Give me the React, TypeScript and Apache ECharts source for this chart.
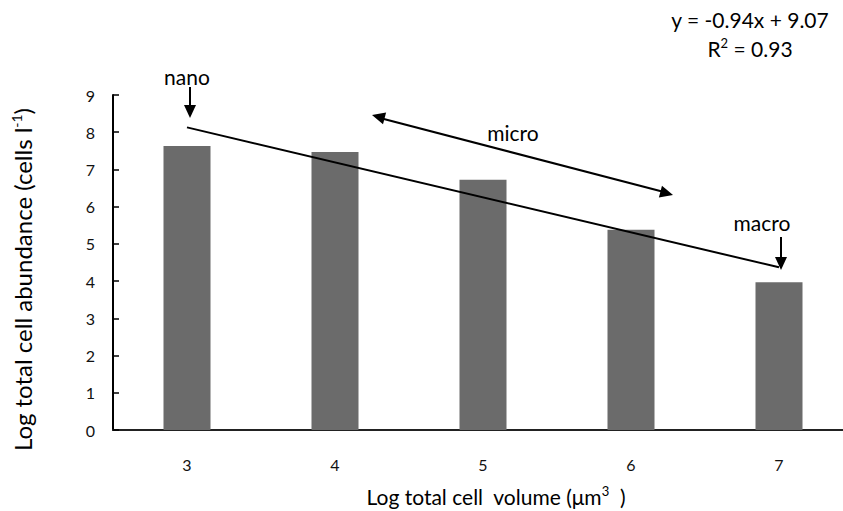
import React, { useEffect, useRef } from "react";
import * as echarts from "echarts";

const categories = ["3", "4", "5", "6", "7"];
const abundance = [7.63, 7.47, 6.72, 5.38, 3.97];
// trend line endpoints (y = -0.94x + 9.07 at first and last category)
const trend = [8.13, null, null, null, 4.37];
const yTicks = [0, 9, 1];
const equation = "y = -0.94x + 9.07";
const r2Value = "0.93";

const FONT = "Lato, 'Open Sans', sans-serif";

function arrowHead(tipX: number, tipY: number, fromX: number, fromY: number, len = 13, half = 6) {
  const dx = tipX - fromX;
  const dy = tipY - fromY;
  const d = Math.sqrt(dx * dx + dy * dy);
  const ux = dx / d;
  const uy = dy / d;
  const bx = tipX - ux * len;
  const by = tipY - uy * len;
  return {
    type: "polygon",
    shape: {
      points: [
        [tipX, tipY],
        [bx - uy * half, by + ux * half],
        [bx + uy * half, by - ux * half],
      ],
    },
    style: { fill: "#000" },
    silent: true,
  };
}

function arrowLine(x1: number, y1: number, x2: number, y2: number) {
  return {
    type: "line",
    shape: { x1, y1, x2, y2 },
    style: { stroke: "#000", lineWidth: 2 },
    silent: true,
  };
}

export default function App() {
  const ref = useRef<HTMLDivElement>(null);
  useEffect(() => {
    document.body.style.margin = "0";
    const chart = echarts.init(ref.current!, null, { renderer: "svg" });
    const textStyle = { fill: "#000", font: `21px ${FONT}`, align: "center", verticalAlign: "middle" };
    chart.setOption({
      animation: false,
      textStyle: { fontFamily: FONT },
      grid: { left: 113, top: 95, width: 740, height: 335, containLabel: false, outerBoundsMode: "none" },
      xAxis: {
        type: "category",
        data: categories,
        boundaryGap: true,
        axisLine: { lineStyle: { color: "#222", width: 2 } },
        axisTick: { show: false },
        axisLabel: { color: "#111", fontSize: 16, margin: 26, fontFamily: FONT },
        name: "Log total cell  volume (μm{sup|3}  )",
        nameLocation: "middle",
        nameGap: 54,
        nameTextStyle: {
          color: "#000",
          fontSize: 21,
          fontFamily: FONT,
          padding: [0, 0, 0, 26],
          rich: { sup: { fontSize: 13, verticalAlign: "bottom", padding: [0, 0, 11, 0], fontFamily: FONT } },
        },
      },
      yAxis: {
        type: "value",
        min: yTicks[0],
        max: yTicks[1],
        interval: yTicks[2],
        splitLine: { show: false },
        axisLine: { show: true, lineStyle: { color: "#000", width: 2 } },
        axisTick: { show: true, inside: true, length: 6, lineStyle: { color: "#000", width: 1.5 } },
        axisLabel: { color: "#111", fontSize: 16, margin: 18, fontFamily: FONT },
        name: "Log total cell abundance (cells l{sup|-1})",
        nameLocation: "middle",
        nameGap: 78,
        nameTextStyle: {
          color: "#000",
          fontSize: 24,
          fontFamily: FONT,
          padding: [0, 34, 0, 0],
          rich: { sup: { fontSize: 14, verticalAlign: "bottom", padding: [0, 0, 12, 0], fontFamily: FONT } },
        },
      },
      series: [
        {
          type: "bar",
          data: abundance,
          barWidth: 47,
          itemStyle: { color: "#6b6b6b" },
          silent: true,
        },
        {
          type: "line",
          data: trend,
          connectNulls: true,
          symbol: "none",
          lineStyle: { color: "#000", width: 2 },
          silent: true,
          z: 5,
        },
      ],
      graphic: [
        { type: "text", x: 750, y: 19, style: { ...textStyle, text: equation } },
        {
          type: "text",
          x: 750,
          y: 48,
          style: {
            text: "R{sup|2} = " + r2Value,
            fill: "#000",
            font: `21px ${FONT}`,
            align: "center",
            verticalAlign: "middle",
            rich: { sup: { fontSize: 13, padding: [0, 0, 11, 0], fill: "#000", fontFamily: FONT } },
          },
        },
        { type: "text", x: 187, y: 76, style: { ...textStyle, text: "nano" } },
        arrowLine(190, 87, 190, 106),
        arrowHead(190, 118, 190, 87),
        { type: "text", x: 513, y: 132, style: { ...textStyle, text: "micro" } },
        arrowLine(380, 118, 664, 192),
        arrowHead(372, 115, 673, 195),
        arrowHead(673, 195, 372, 115),
        { type: "text", x: 762, y: 222, style: { ...textStyle, text: "macro" } },
        arrowLine(781, 237, 781, 258),
        arrowHead(781, 270, 781, 237),
      ],
    });
    return () => chart.dispose();
  }, []);
  return <div ref={ref} style={{ width: 843, height: 511, overflow: "hidden" }} />;
}
